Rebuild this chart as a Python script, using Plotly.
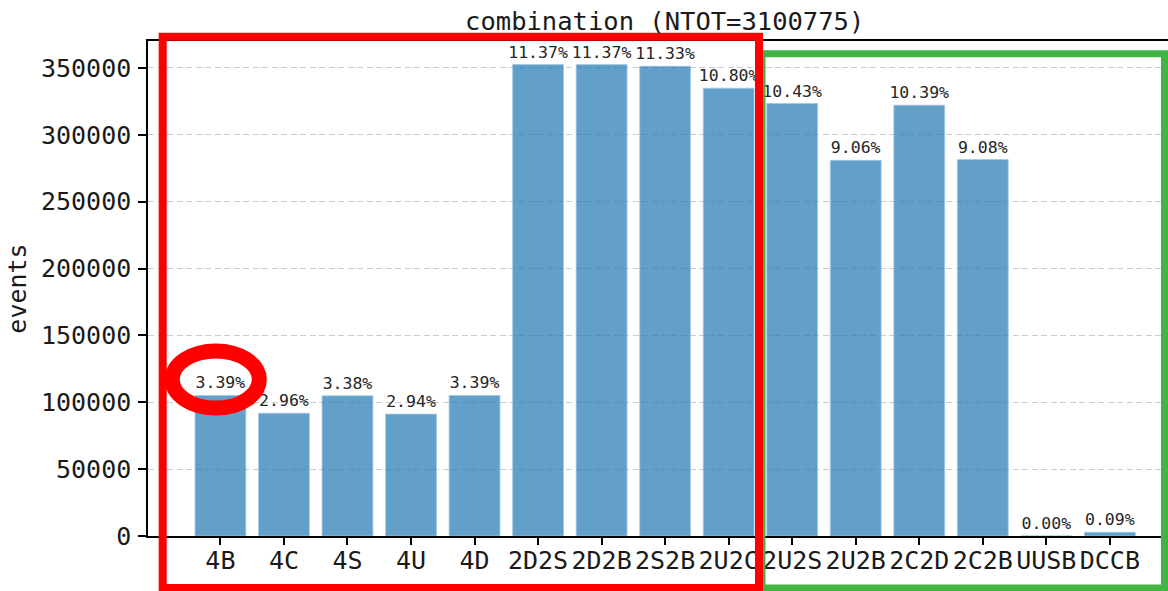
import plotly.graph_objects as go

# ---------------- data ----------------
categories = ["4B", "4C", "4S", "4U", "4D", "2D2S", "2D2B", "2S2B", "2U2C",
              "2U2S", "2U2B", "2C2D", "2C2B", "UUSB", "DCCB"]
events = [105116, 91783, 104806, 91163, 105116, 352558, 352558, 351318, 334884,
          323411, 280930, 322171, 281550, 60, 2791]
NTOT = 3100775
y_tick_vals = [0, 50000, 100000, 150000, 200000, 250000, 300000, 350000]
y_tick_text = [str(v) for v in y_tick_vals]
pct_labels = ["%.2f%%" % (100.0 * v / NTOT) for v in events]

# ---------------- style / layout ----------------
W, H = 1168, 591
L, R, T, B = 148, 0, 41, 55
PW, PH = W - L - R, H - T - B
FONT = "DejaVu Sans Mono"
BAR_COLOR = "rgba(31,119,180,0.7)"


def px2x(px):
    return (px - L) / PW


def py2y(py):
    return (H - B - py) / PH


fig = go.Figure()
fig.add_trace(go.Bar(
    x=categories,
    y=events,
    width=0.8,
    marker=dict(color=BAR_COLOR, line=dict(color="rgba(160,200,228,1)", width=0.8)),
    text=pct_labels,
    textposition="outside",
    constraintext="none",
    cliponaxis=False,
    textfont=dict(family=FONT, size=16.5, color="#262626"),
    hoverinfo="x+y",
))

ymax = max(events) * 1.05
n = len(categories)
x_lo = -0.4 - 0.05 * (n - 1 + 0.8)
px_per_unit = 63.53
x_hi = x_lo + PW / px_per_unit

fig.update_layout(
    width=W, height=H,
    margin=dict(l=L, r=R, t=T, b=B, pad=0),
    paper_bgcolor="white",
    plot_bgcolor="white",
    showlegend=False,
    font=dict(family=FONT, size=25, color="#000000"),
    title=dict(
        text="combination (NTOT=%d)" % NTOT,
        x=px2x(664.7), xref="paper", xanchor="center",
        y=1 - 21 / H, yref="container", yanchor="middle",
        font=dict(family=FONT, size=25.5, color="#1a1a1a"),
    ),
    xaxis=dict(
        type="category",
        range=[x_lo, x_hi],
        showline=True, linecolor="#000000", linewidth=1.5, mirror=True,
        ticks="outside", ticklen=7, tickwidth=1.5, tickcolor="#000000",
        showgrid=False, zeroline=False,
        tickfont=dict(family=FONT, size=25, color="#1a1a1a"),
        ticklabelstandoff=-6,
    ),
    yaxis=dict(
        range=[0, ymax],
        tickvals=y_tick_vals, ticktext=y_tick_text,
        showline=True, linecolor="#000000", linewidth=1.5, mirror=False,
        ticks="outside", ticklen=8, tickwidth=1.5, tickcolor="#000000",
        showgrid=True, gridcolor="#cccccc", gridwidth=1, griddash="6px,3.5px",
        zeroline=False,
        tickfont=dict(family=FONT, size=25, color="#1a1a1a"),
        ticklabelstandoff=2,
        title=dict(text="events", font=dict(family=FONT, size=25, color="#1a1a1a"), standoff=7),
    ),
)

# highlight markup (pixel positions of the drawn boxes)
GREEN = "#42b442"
RED = "#ff0000"
fig.add_shape(type="rect", xref="paper", yref="paper",
              x0=px2x(762), x1=px2x(1164.5), y0=py2y(588), y1=py2y(53.7),
              line=dict(color=GREEN, width=7), fillcolor="rgba(0,0,0,0)", layer="above")
fig.add_shape(type="rect", xref="paper", yref="paper",
              x0=px2x(162.7), x1=px2x(759), y0=py2y(588), y1=py2y(36.7),
              line=dict(color=RED, width=8), fillcolor="rgba(0,0,0,0)", layer="above")
cx, cy, rx, ry = 215.8, 379.5, 43.5, 28.5
fig.add_shape(type="circle", xref="paper", yref="paper",
              x0=px2x(cx - rx), x1=px2x(cx + rx), y0=py2y(cy + ry), y1=py2y(cy - ry),
              line=dict(color=RED, width=15), fillcolor="rgba(0,0,0,0)", layer="above")

fig.write_html("out.html", config={"displayModeBar": False},
               post_script="document.body.style.margin='0px';")
